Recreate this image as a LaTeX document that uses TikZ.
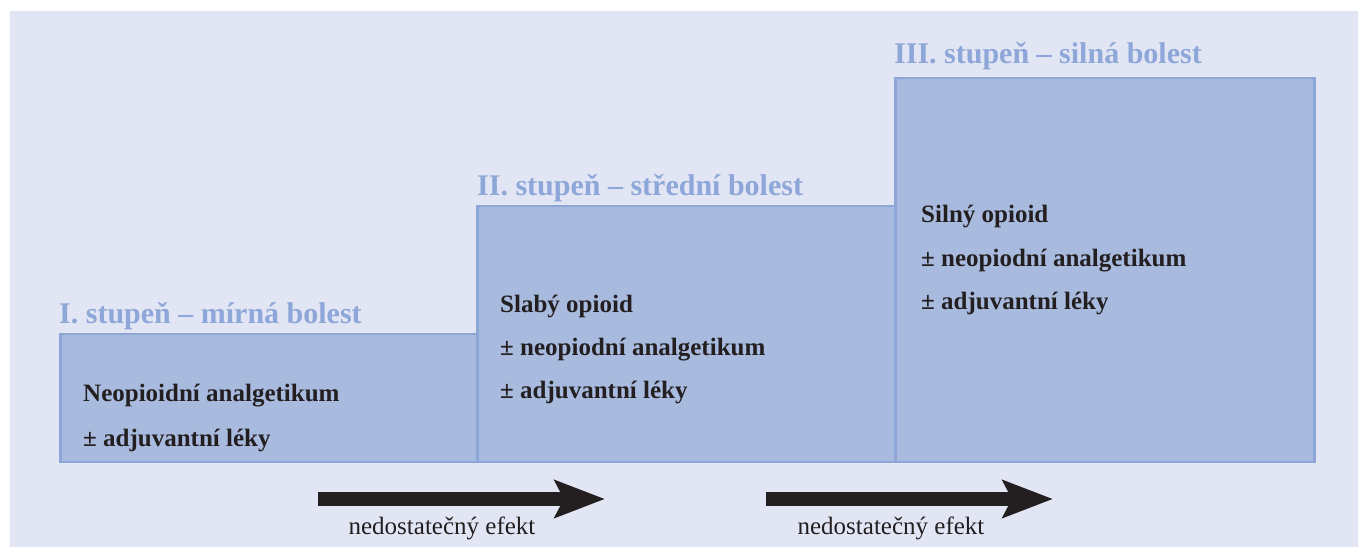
\documentclass[tikz,border=0pt]{standalone}
\usepackage{fontspec}
\setmainfont{Liberation Serif}
\usetikzlibrary{positioning, arrows.meta}

\definecolor{pozadi}{HTML}{E2E5F4}
\definecolor{vypln}{HTML}{A9BADF}
\definecolor{okraj}{HTML}{8DA6D8}
\definecolor{nadpis}{HTML}{8EA7D9}
\definecolor{tmava}{HTML}{231F20}

\tikzset{
  stupen/.style={draw=okraj, fill=vypln, line width=2.5pt, anchor=south west, inner sep=0pt},
  nazev/.style={text=nadpis, font=\fontsize{30}{36}\selectfont\bfseries, anchor=base west, inner sep=0pt},
  leky/.style={text=tmava, font=\fontsize{25}{30}\selectfont\bfseries, anchor=base west, inner sep=0pt},
  sipka/.style={draw=tmava, line width=14pt, -{Stealth[length=50pt, width=37pt, inset=9pt]}},
  efekt/.style={text=tmava, font=\fontsize{25}{30}\selectfont, anchor=base, inner sep=0pt}
}

\begin{document}
\begin{tikzpicture}[x=1pt, y=-1pt]
            \useasboundingbox (0,0) rectangle (1358,547);
            \fill[pozadi] (10,11) rectangle (1358,547);
            % schody
            \node[stupen, minimum width=417pt, minimum height=128pt] (s1) at (59,463) {};
            \node[stupen, minimum width=418pt, minimum height=256pt] (s2) at (476,463) {};
            \node[stupen, minimum width=419pt, minimum height=384pt] (s3) at (894,463) {};
            % nadpisy
            \node[nazev] (n1) at (59,323) {I. stupeň – mírná bolest};
            \node[nazev] (n2) at (477,195) {II. stupeň – střední bolest};
            \node[nazev] (n3) at (894,63) {III. stupeň – silná bolest};
            % leky
            \node[leky] (l1a) at (83,401) {Neopioidní analgetikum};
            \node[leky] (l1b) at ([yshift=-45pt]l1a.base west) {± adjuvantní léky};
            \node[leky] (l2a) at (500,312) {Slabý opioid};
            \node[leky] (l2b) at ([yshift=-43pt]l2a.base west) {± neopiodní analgetikum};
            \node[leky] (l2c) at ([yshift=-43pt]l2b.base west) {± adjuvantní léky};
            \node[leky] (l3a) at (921,222) {Silný opioid};
            \node[leky] (l3b) at ([yshift=-44pt]l3a.base west) {± neopiodní analgetikum};
            \node[leky] (l3c) at ([yshift=-43pt]l3b.base west) {± adjuvantní léky};
            % sipky
            \coordinate (a1) at (318,499);
            \coordinate (b1) at (605,499);
            \coordinate (a2) at (766,499);
            \coordinate (b2) at (1053,499);
            \draw[sipka] (a1) -- (b1);
            \draw[sipka] (a2) -- (b2);
            \node[efekt] (e1) at (442,534) {nedostatečný efekt};
            \node[efekt] (e2) at (891,534) {nedostatečný efekt};
        \end{tikzpicture}
\end{document}
